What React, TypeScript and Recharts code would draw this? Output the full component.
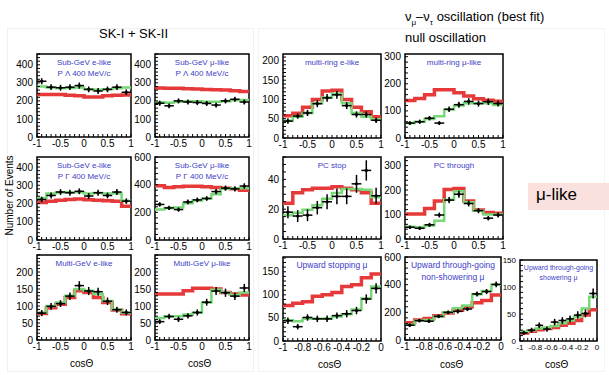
import React from "react";
import {
  ComposedChart,
  Line,
  Scatter,
  XAxis,
  YAxis,
  ErrorBar,
  ReferenceArea,
} from "recharts";

// bin layout
const EDGES_FULL = [-1, -0.8, -0.6, -0.4, -0.2, 0, 0.2, 0.4, 0.6, 0.8, 1];
const CENTERS_FULL = [-0.9, -0.7, -0.5, -0.3, -0.1, 0.1, 0.3, 0.5, 0.7, 0.9];
const EDGES_UP = [-1, -0.9, -0.8, -0.7, -0.6, -0.5, -0.4, -0.3, -0.2, -0.1, 0];
const CENTERS_UP = [-0.95, -0.85, -0.75, -0.65, -0.55, -0.45, -0.35, -0.25, -0.15, -0.05];
const X_LABELS_FULL = [-1, -0.5, 0, 0.5, 1];
const X_LABELS_UP = [-1, -0.8, -0.6, -0.4, -0.2, 0];

// Sub-GeV e-like P<400
const sgeLowData = [309, 276, 273, 276, 285, 264, 255, 264, 276, 248];
const sgeLowErr = [17, 16, 16, 16, 17, 16, 16, 16, 16, 16];
const sgeLowNull = [235, 235, 235, 232, 228, 222, 222, 228, 232, 233];
const sgeLowFit = [280, 275, 270, 272, 275, 265, 262, 265, 270, 275];
// Sub-GeV mu-like P<400
const sgmLowData = [187, 173, 200, 194, 191, 186, 177, 200, 209, 194];
const sgmLowErr = [14, 13, 14, 14, 14, 14, 13, 14, 14, 14];
const sgmLowNull = [272, 270, 270, 268, 266, 263, 262, 260, 256, 252];
const sgmLowFit = [192, 190, 195, 198, 198, 195, 195, 198, 203, 205];
// Sub-GeV e-like P>400
const sgeHighData = [222, 244, 263, 259, 267, 241, 259, 244, 263, 213];
const sgeHighErr = [15, 16, 16, 16, 16, 16, 16, 16, 16, 15];
const sgeHighNull = [205, 212, 218, 222, 225, 220, 218, 215, 212, 185];
const sgeHighFit = [230, 255, 260, 262, 262, 255, 258, 255, 255, 215];
// Sub-GeV mu-like P>400
const sgmHighData = [257, 232, 220, 275, 290, 300, 350, 375, 370, 390];
const sgmHighErr = [16, 15, 15, 17, 17, 17, 19, 19, 19, 20];
const sgmHighNull = [392, 380, 385, 388, 388, 385, 380, 375, 370, 360];
const sgmHighFit = [220, 232, 235, 265, 285, 300, 330, 370, 375, 375];
// Multi-GeV e-like
const mgeData = [79, 99, 107, 129, 160, 144, 142, 114, 89, 81];
const mgeErr = [9, 10, 10, 11, 13, 12, 12, 11, 9, 9];
const mgeNull = [78, 95, 105, 125, 145, 140, 125, 110, 88, 77];
const mgeFit = [80, 100, 110, 130, 150, 145, 135, 115, 90, 80];
// Multi-GeV mu-like
const mgmData = [54, 69, 61, 71, 81, 111, 144, 139, 129, 153];
const mgmErr = [7, 8, 8, 8, 9, 10, 12, 12, 11, 12];
const mgmNull = [135, 135, 135, 145, 152, 152, 150, 140, 135, 132];
const mgmFit = [65, 70, 70, 75, 80, 110, 148, 140, 132, 140];
// multi-ring e-like
const mreData = [44, 57, 65, 89, 104, 112, 84, 61, 61, 46];
const mreErr = [7, 7, 8, 9, 10, 10, 9, 8, 8, 7];
const mreNull = [58, 64, 80, 100, 122, 124, 100, 80, 68, 55];
const mreFit = [45, 55, 65, 90, 105, 115, 90, 65, 55, 48];
// multi-ring mu-like
const mrmData = [55, 60, 73, 55, 106, 123, 135, 127, 134, 127];
const mrmErr = [7, 8, 8, 7, 10, 11, 12, 11, 12, 11];
const mrmNull = [138, 146, 160, 178, 178, 167, 155, 145, 139, 136];
const mrmFit = [55, 60, 70, 80, 105, 120, 128, 128, 128, 122];
// PC stop
const pcsData = [18, 15.4, 16, 21, 25, 28.6, 28.6, 37, 46, 29];
const pcsErr = [4, 4, 4, 4.5, 5, 5.3, 5.3, 6, 6.8, 5.3];
const pcsNull = [24, 31, 33, 34, 34, 35, 34, 33, 31, 24];
const pcsFit = [16, 17.6, 19.7, 22.6, 27, 30.8, 33.6, 33.6, 33, 28];
// PC through
const pctData = [48, 44, 58, 98, 159, 183, 145, 116, 85, 98];
const pctErr = [7, 7, 8, 10, 13, 14, 12, 11, 9, 10];
const pctNull = [102, 102, 125, 155, 202, 206, 155, 118, 108, 105];
const pctFit = [50, 48, 55, 75, 160, 195, 150, 115, 100, 100];
// Upward stopping mu
const upsData = [44, 31, 51, 48, 48, 55, 59, 66, 91, 114];
const upsErr = [7, 6, 7, 7, 7, 7, 8, 8, 10, 11];
const upsNull = [77, 82, 85, 97, 100, 105, 118, 122, 137, 145];
const upsFit = [45, 43, 48, 48, 48, 53, 58, 68, 92, 118];
// Upward through-going non-showering mu
const uptData = [107, 140, 136, 171, 200, 207, 224, 333, 350, 402];
const uptErr = [11, 12, 12, 13, 14, 15, 15, 18, 19, 20];
const uptNull = [125, 145, 155, 175, 195, 215, 240, 270, 285, 325];
const uptFit = [110, 140, 145, 170, 200, 230, 250, 330, 355, 400];
// Upward through-going showering mu
const upshData = [15, 20, 29, 22, 35, 38, 41, 48, 51, 88];
const upshErr = [4, 4.5, 5.4, 4.7, 6, 6.2, 6.4, 7, 7.2, 9.4];
const upshNull = [15, 18, 21, 23, 25, 29, 33, 38, 48, 58];
const upshFit = [17, 20, 23, 25, 28, 33, 38, 45, 60, 82];

const FONT = "'Liberation Sans', Arial, sans-serif";
const RED = "#e63a3a";
const GREEN = "#78d878";
const BLUE = "#4040c8";
const YAX_W = 26;
const TOP_PAD = 8;

interface PanelProps {
  left: number;
  top: number;
  w: number;
  h: number;
  ymax: number;
  yLabels: number[];
  yMinor: number;
  up?: boolean;
  data: number[];
  err: number[];
  nullOsc: number[];
  fit: number[];
  label: string[];
  labelSize?: number;
  tickSize?: number;
}

const Dot = (props: any) => <circle cx={props.cx} cy={props.cy} r={1.6} fill="#000" />;

const Panel: React.FC<PanelProps> = ({
  left, top, w, h, ymax, yLabels, yMinor, up, data, err, nullOsc, fit, label,
  labelSize = 8, tickSize = 10,
}) => {
  const edges = up ? EDGES_UP : EDGES_FULL;
  const centers = up ? CENTERS_UP : CENTERS_FULL;
  const xLabels = up ? X_LABELS_UP : X_LABELS_FULL;
  const lo = -1;
  const hi = up ? 0 : 1;
  const half = up ? 0.05 : 0.1;
  const hist = (vals: number[]) =>
    edges.map((x, i) => ({ x, y: vals[Math.min(i, vals.length - 1)] }));
  const pts = centers.map((x, i) => ({ x, y: data[i], ey: err[i], ex: half }));
  const xTicks = edges.flatMap((e, i) =>
    i < edges.length - 1 ? [e, Math.round((e + half) * 1000) / 1000] : [e]
  );
  const yTicks: number[] = [];
  for (let v = 0; v <= ymax + 0.001; v += yMinor) yTicks.push(Math.round(v * 100) / 100);
  const near = (arr: number[], v: number) => arr.some((a) => Math.abs(a - v) < 1e-6);

  return (
    <div style={{ position: "absolute", left: left - YAX_W, top: top - TOP_PAD }}>
      <ComposedChart
        width={YAX_W + w + 8}
        height={h + TOP_PAD + 16}
        margin={{ top: TOP_PAD, right: 8, bottom: 0, left: 0 }}
      >
        <XAxis
          type="number"
          dataKey="x"
          domain={[lo, hi]}
          ticks={xTicks}
          interval={0}
          allowDataOverflow
          axisLine={false}
          tickLine={{ stroke: "#000" }}
          tickSize={-3}
          tickMargin={6}
          height={16}
          tick={{ fontSize: tickSize, fill: "#000", fontFamily: FONT }}
          tickFormatter={(v: number) => (near(xLabels, v) ? String(v) : "")}
        />
        <YAxis
          type="number"
          domain={[0, ymax]}
          ticks={yTicks}
          interval={0}
          allowDataOverflow
          axisLine={false}
          tickLine={{ stroke: "#000" }}
          tickSize={-3}
          tickMargin={7}
          width={YAX_W}
          tick={{ fontSize: tickSize, fill: "#000", fontFamily: FONT }}
          tickFormatter={(v: number) => (near(yLabels, v) ? String(v) : "")}
        />
        <Line
          data={hist(nullOsc)}
          dataKey="y"
          type="stepAfter"
          stroke={RED}
          strokeWidth={3.5}
          dot={false}
          isAnimationActive={false}
        />
        <Line
          data={hist(fit)}
          dataKey="y"
          type="stepAfter"
          stroke={GREEN}
          strokeWidth={2.5}
          dot={false}
          isAnimationActive={false}
        />
        <Scatter data={pts} dataKey="y" shape={Dot} isAnimationActive={false}>
          <ErrorBar dataKey="ey" direction="y" width={0} stroke="#000" strokeWidth={1.5} />
          <ErrorBar dataKey="ex" direction="x" width={0} stroke="#000" strokeWidth={1.5} />
        </Scatter>
        <ReferenceArea
          x1={lo}
          x2={hi}
          y1={0}
          y2={ymax}
          fill="none"
          fillOpacity={0}
          stroke="#000"
          strokeWidth={1.5}
          ifOverflow="visible"
        />
      </ComposedChart>
      <div
        style={{
          position: "absolute",
          left: YAX_W,
          top: TOP_PAD + 3,
          width: w,
          textAlign: "center",
          color: BLUE,
          fontFamily: FONT,
          fontSize: labelSize,
          lineHeight: `${labelSize + 3}px`,
        }}
      >
        {label.map((l) => (
          <div key={l}>{l}</div>
        ))}
      </div>
    </div>
  );
};

const txt = (left: number, top: number, size: number, s: React.ReactNode, extra = {}) => (
  <div
    style={{
      position: "absolute",
      left,
      top,
      fontFamily: FONT,
      fontSize: size,
      color: "#000",
      whiteSpace: "nowrap",
      ...extra,
    }}
  >
    {s}
  </div>
);

export default function App() {
  return (
    <div
      style={{
        position: "absolute",
        left: 0,
        top: 0,
        width: 609,
        height: 375,
        background: "#fff",
        overflow: "hidden",
      }}
    >
      <div style={{ position: "absolute", left: 7, top: 28, width: 245, height: 342, border: "1px solid #f0f0f0" }} />
      <div style={{ position: "absolute", left: 258, top: 28, width: 345, height: 342, border: "1px solid #f4f4f4" }} />

      {txt(99, 26, 13, "SK-I + SK-II")}
      {txt(405, 9, 13, <span>ν<sub style={{ fontSize: 8 }}>μ</sub>–ν<sub style={{ fontSize: 8 }}>τ</sub> oscillation (best fit)</span>)}
      {txt(405, 30, 13, "null oscillation")}
      <div style={{ position: "absolute", left: 528, top: 183, width: 81, height: 27, background: "#fbe1dd" }} />
      {txt(536, 185, 17, "μ-like")}
      {txt(-31, 190, 10, "Number of Events", { transform: "rotate(-90deg)", width: 80 })}

      <Panel left={37} top={54} w={94} h={83} ymax={460} yLabels={[0, 100, 200, 300, 400]} yMinor={20}
        data={sgeLowData} err={sgeLowErr} nullOsc={sgeLowNull} fit={sgeLowFit}
        label={["Sub-GeV e-like", "P Λ 400 MeV/c"]} />
      <Panel left={155} top={54} w={94} h={83} ymax={460} yLabels={[0, 100, 200, 300, 400]} yMinor={20}
        data={sgmLowData} err={sgmLowErr} nullOsc={sgmLowNull} fit={sgmLowFit}
        label={["Sub-GeV μ-like", "P Λ 400 MeV/c"]} />
      <Panel left={37} top={157} w={94} h={83} ymax={455} yLabels={[0, 100, 200, 300, 400]} yMinor={20}
        data={sgeHighData} err={sgeHighErr} nullOsc={sgeHighNull} fit={sgeHighFit}
        label={["Sub-GeV e-like", "P Γ 400 MeV/c"]} />
      <Panel left={155} top={157} w={94} h={83} ymax={600} yLabels={[0, 200, 400, 600]} yMinor={40}
        data={sgmHighData} err={sgmHighErr} nullOsc={sgmHighNull} fit={sgmHighFit}
        label={["Sub-GeV μ-like", "P Γ 400 MeV/c"]} />
      <Panel left={37} top={255} w={94} h={85} ymax={250} yLabels={[0, 50, 100, 150, 200]} yMinor={10}
        data={mgeData} err={mgeErr} nullOsc={mgeNull} fit={mgeFit}
        label={["Multi-GeV e-like"]} />
      <Panel left={155} top={255} w={94} h={85} ymax={250} yLabels={[0, 50, 100, 150, 200]} yMinor={10}
        data={mgmData} err={mgmErr} nullOsc={mgmNull} fit={mgmFit}
        label={["Multi-GeV μ-like"]} />

      <Panel left={283} top={54} w={98} h={84} ymax={218} yLabels={[0, 50, 100, 150, 200]} yMinor={10}
        data={mreData} err={mreErr} nullOsc={mreNull} fit={mreFit}
        label={["multi-ring e-like"]} />
      <Panel left={405} top={54} w={98} h={84} ymax={310} yLabels={[0, 100, 200, 300]} yMinor={20}
        data={mrmData} err={mrmErr} nullOsc={mrmNull} fit={mrmFit}
        label={["multi-ring μ-like"]} />
      <Panel left={283} top={157} w={98} h={82} ymax={55} yLabels={[0, 20, 40]} yMinor={5}
        data={pcsData} err={pcsErr} nullOsc={pcsNull} fit={pcsFit}
        label={["PC stop"]} />
      <Panel left={405} top={157} w={98} h={82} ymax={335} yLabels={[0, 100, 200, 300]} yMinor={20}
        data={pctData} err={pctErr} nullOsc={pctNull} fit={pctFit}
        label={["PC through"]} />
      <Panel left={283} top={257} w={98} h={84} ymax={182} yLabels={[0, 50, 100, 150]} yMinor={10} up
        data={upsData} err={upsErr} nullOsc={upsNull} fit={upsFit}
        label={["Upward stopping μ"]} labelSize={8.5} />
      <Panel left={405} top={257} w={96} h={83} ymax={600} yLabels={[0, 200, 400, 600]} yMinor={40} up
        data={uptData} err={uptErr} nullOsc={uptNull} fit={uptFit}
        label={["Upward through-going", "non-showering μ"]} labelSize={8.5} />
      <Panel left={520} top={260} w={77} h={81} ymax={150} yLabels={[0, 50, 100, 150]} yMinor={10} up
        data={upshData} err={upshErr} nullOsc={upshNull} fit={upshFit}
        label={["Upward through-going", "showering μ"]} labelSize={7} tickSize={8} />

      {txt(70, 358, 10, "cosΘ")}
      {txt(188, 358, 10, "cosΘ")}
      {txt(318, 359, 10, "cosΘ")}
      {txt(440, 359, 10, "cosΘ")}
      {txt(545, 359, 10, "cosΘ")}
    </div>
  );
}
